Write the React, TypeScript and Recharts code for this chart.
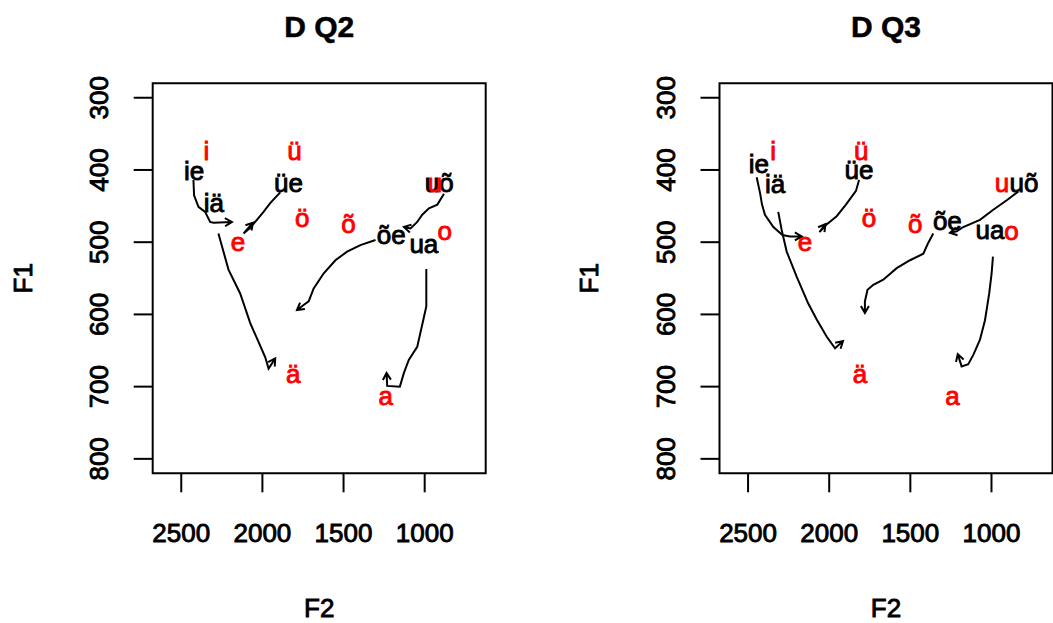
import React from "react";
import { ComposedChart, Scatter, XAxis, YAxis, ReferenceArea } from "recharts";

// monophthong targets (same in both panels)
const vowels = ["i", "ü", "e", "ö", "õ", "ä", "a", "u", "o"];
const vowelF2 = [2345, 1802, 2150, 1755, 1470, 1810, 1240, 936, 877];
const vowelF1 = [373, 374, 500, 466, 475, 682, 713, 417, 484];

// diphthong labels
const diphthongs = ["ie", "iä", "üe", "õe", "ua", "uõ"];
const q2DiphF2 = [2421, 2299, 1839, 1206, 1005, 910];
const q2DiphF1 = [401, 445, 417, 489, 502, 417];
const q3DiphF2 = [2433, 2334, 1816, 1272, 1009, 800];
const q3DiphF1 = [392, 419, 399, 470, 483, 417];

// formant tracks, one list per diphthong (same order as above)
const q2TrackF2 = [
  [2425, 2421, 2394, 2353, 2322, 2302, 2188],
  [2271, 2209, 2137, 2075, 2024, 1983, 1962, 1921],
  [1890, 1952, 1993, 2034, 2075, 2116, 2058],
  [1303, 1396, 1478, 1550, 1622, 1684, 1715, 1746, 1787],
  [990, 990, 1009, 1046, 1098, 1128, 1153, 1231, 1235],
  [881, 922, 974, 1015, 1046, 1087, 1128],
];
const q2TrackF1 = [
  [414, 435, 451, 458, 472, 473, 472],
  [488, 538, 571, 612, 638, 659, 675, 661],
  [431, 446, 458, 469, 480, 488, 473],
  [497, 504, 513, 525, 543, 564, 582, 587, 594],
  [537, 589, 608, 645, 663, 681, 700, 699, 681],
  [433, 448, 453, 462, 472, 481, 479],
];
const q3TrackF2 = [
  [2447, 2426, 2414, 2396, 2344, 2288, 2242, 2169],
  [2314, 2293, 2262, 2200, 2129, 2077, 2015, 1964, 1915],
  [1816, 1835, 1897, 1954, 2014, 2060, 2023],
  [1359, 1390, 1420, 1502, 1584, 1667, 1728, 1764, 1780, 1780],
  [991, 999, 1014, 1040, 1071, 1112, 1143, 1184, 1208],
  [835, 906, 989, 1071, 1174, 1214, 1256],
];
const q3TrackF1 = [
  [410, 432, 448, 462, 479, 490, 492, 492],
  [458, 483, 513, 548, 585, 607, 631, 647, 637],
  [414, 429, 448, 464, 475, 486, 475],
  [488, 501, 516, 525, 536, 552, 559, 566, 582, 598],
  [520, 543, 571, 608, 635, 656, 669, 672, 655],
  [430, 442, 455, 469, 479, 485, 487],
];

const f2Ticks = [1000, 1500, 2000, 2500];
const f1Ticks = [300, 400, 500, 600, 700, 800];

const FONT = '"Liberation Sans", Arial, Helvetica, sans-serif';
const CHART_W = 527;
const CHART_H = 623;
const PLOT_TOP = 83.3;
const PLOT_BOTTOM = 473.3;
const PLOT_W = 333;
const INK = 0.9; // extra stroke so the text looks as heavy as the reference

const toRows = (labels: string[], f2: number[], f1: number[]) =>
  labels.map((label, i) => ({ label, f2: f2[i], f1: f1[i] }));

const toTrack = (f2: number[], f1: number[]) => f2.map((x, i) => ({ f2: x, f1: f1[i] }));

const labelShape = (color: string) => (p: any) => (
  <text
    x={p.cx}
    y={p.cy + 9.3}
    textAnchor="middle"
    fontFamily={FONT}
    fontSize={26}
    fill={color}
    stroke={color}
    strokeWidth={INK}
  >
    {p.payload.label}
  </text>
);

// polyline with an R-style open arrow head on the last segment
const trackLine = (p: any) => {
  const pts = p.points;
  const d = pts.map((q: any, i: number) => `${i ? "L" : "M"}${q.x},${q.y}`).join(" ");
  const a = pts[pts.length - 2];
  const b = pts[pts.length - 1];
  const ang = Math.atan2(b.y - a.y, b.x - a.x);
  const len = 8;
  const spread = Math.PI / 6;
  const h1 = `${b.x - len * Math.cos(ang - spread)},${b.y - len * Math.sin(ang - spread)}`;
  const h2 = `${b.x - len * Math.cos(ang + spread)},${b.y - len * Math.sin(ang + spread)}`;
  return (
    <path
      d={`${d} M${h1} L${b.x},${b.y} L${h2}`}
      fill="none"
      stroke="#000"
      strokeWidth={2}
    />
  );
};

const XTick = (p: any) => (
  <text
    x={p.x}
    y={p.y + 49.3}
    textAnchor="middle"
    fontFamily={FONT}
    fontSize={26}
    fill="#000"
    stroke="#000"
    strokeWidth={INK}
  >
    {p.payload.value}
  </text>
);

const YTick = (p: any) => {
  const bx = p.x - 25.4;
  return (
    <text
      x={bx}
      y={p.y}
      transform={`rotate(-90 ${bx} ${p.y})`}
      textAnchor="middle"
      fontFamily={FONT}
      fontSize={26}
      fill="#000"
      stroke="#000"
      strokeWidth={INK}
    >
      {p.payload.value}
    </text>
  );
};

type PanelProps = {
  left: number;
  plotLeft: number;
  title: string;
  diphF2: number[];
  diphF1: number[];
  trackF2: number[][];
  trackF1: number[][];
};

const Panel = ({ left, plotLeft, title, diphF2, diphF1, trackF2, trackF1 }: PanelProps) => {
  const midX = plotLeft + PLOT_W / 2;
  const midY = (PLOT_TOP + PLOT_BOTTOM) / 2;
  return (
    <div style={{ position: "absolute", left, top: 0 }}>
      <ComposedChart
        width={CHART_W}
        height={CHART_H}
        margin={{
          top: PLOT_TOP,
          bottom: CHART_H - PLOT_BOTTOM - 60,
          left: plotLeft - 60,
          right: CHART_W - plotLeft - PLOT_W,
        }}
      >
        <XAxis
          type="number"
          dataKey="f2"
          domain={[624, 2676]}
          reversed
          allowDataOverflow
          ticks={f2Ticks}
          interval={0}
          height={60}
          tickSize={19}
          tickMargin={0}
          axisLine={false}
          stroke="#000"
          tickLine={{ stroke: "#000", strokeWidth: 2 }}
          tick={<XTick />}
          label={{
            content: () => (
              <text x={midX} y={616.5} textAnchor="middle" fontFamily={FONT} fontSize={26}
                fill="#000" stroke="#000" strokeWidth={INK}>
                F2
              </text>
            ),
          }}
        />
        <YAxis
          type="number"
          dataKey="f1"
          domain={[280, 820]}
          reversed
          allowDataOverflow
          ticks={f1Ticks}
          interval={0}
          width={60}
          tickSize={19}
          tickMargin={0}
          axisLine={false}
          stroke="#000"
          tickLine={{ stroke: "#000", strokeWidth: 2 }}
          tick={<YTick />}
          label={{
            content: () => (
              <text x={plotLeft - 121} y={midY} transform={`rotate(-90 ${plotLeft - 121} ${midY})`}
                textAnchor="middle" fontFamily={FONT} fontSize={26}
                fill="#000" stroke="#000" strokeWidth={INK}>
                F1
              </text>
            ),
          }}
        />
        <ReferenceArea
          x1={624}
          x2={2676}
          y1={280}
          y2={820}
          fill="none"
          fillOpacity={0}
          stroke="#000"
          strokeWidth={2}
          strokeOpacity={1}
          label={{
            content: () => (
              <text x={midX} y={36.7} textAnchor="middle" fontFamily={FONT} fontSize={30}
                fontWeight="bold" fill="#000" stroke="#000" strokeWidth={0.5}>
                {title}
              </text>
            ),
          }}
        />
        {trackF2.map((f2, i) => (
          <Scatter
            key={"t" + i}
            data={toTrack(f2, trackF1[i])}
            line={trackLine}
            lineJointType="linear"
            shape={() => <g />}
            fill="#000"
            isAnimationActive={false}
          />
        ))}
        <Scatter
          data={toRows(diphthongs, diphF2, diphF1)}
          shape={labelShape("#000")}
          isAnimationActive={false}
        />
        <Scatter
          data={toRows(vowels, vowelF2, vowelF1)}
          shape={labelShape("#ff0000")}
          isAnimationActive={false}
        />
      </ComposedChart>
    </div>
  );
};

export default function App() {
  return (
    <div
      style={{
        position: "absolute",
        left: 0,
        top: 0,
        width: 1053,
        height: 623,
        background: "#fff",
        overflow: "hidden",
      }}
    >
      <Panel left={0} plotLeft={152.7} title="D Q2"
        diphF2={q2DiphF2} diphF1={q2DiphF1} trackF2={q2TrackF2} trackF1={q2TrackF1} />
      <Panel left={526} plotLeft={193.5} title="D Q3"
        diphF2={q3DiphF2} diphF1={q3DiphF1} trackF2={q3TrackF2} trackF1={q3TrackF1} />
    </div>
  );
}
